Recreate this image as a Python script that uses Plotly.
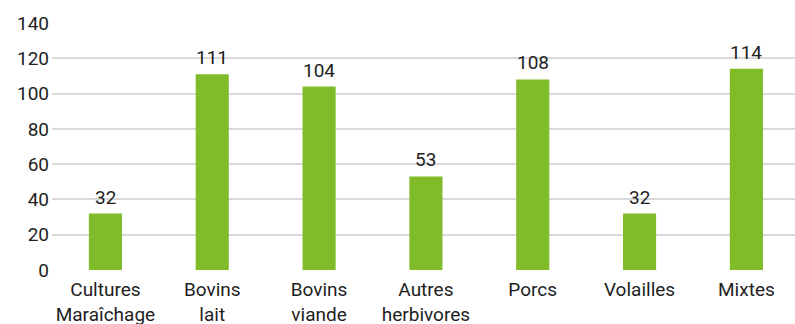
import plotly.graph_objects as go

categories = ["Cultures<br>Maraîchage", "Bovins<br>lait", "Bovins<br>viande", "Autres<br>herbivores", "Porcs", "Volailles", "Mixtes"]
values = [32, 111, 104, 53, 108, 32, 114]
y_ticks = [0, 20, 40, 60, 80, 100, 120, 140]

GREEN = "#80bb29"
FONT = "Roboto"
TXT = "#1e1e1e"

fig = go.Figure()
fig.add_trace(go.Bar(x=list(range(len(categories))), y=values, marker=dict(color=GREEN, line=dict(width=0)),
                     width=0.31, hoverinfo="skip"))
for i, v in enumerate(values):
    fig.add_annotation(x=i, y=v, text=str(v), showarrow=False, yanchor="bottom", yshift=3,
                       font=dict(family=FONT, size=19, color=TXT))

fig.update_layout(
    width=795, height=324,
    margin=dict(l=52, r=0, t=23, b=54, autoexpand=False),
    paper_bgcolor="white", plot_bgcolor="white",
    showlegend=False,
    font=dict(family=FONT, size=19, color=TXT),
    xaxis=dict(range=[-0.5, 6.455], tickmode="array", tickvals=list(range(len(categories))),
               ticktext=categories, showgrid=False, zeroline=False, showline=False,
               ticks="", automargin=False, ticklabelstandoff=6,
               tickfont=dict(family=FONT, size=19, color=TXT)),
    yaxis=dict(range=[0, 140], tickmode="array", tickvals=y_ticks, showgrid=True,
               gridcolor="#d9d9d9", gridwidth=2, zeroline=False, showline=False, ticks="",
               automargin=False, ticklabelstandoff=2,
               tickfont=dict(family=FONT, size=19, color=TXT)),
)

fig.write_html("out.html")
